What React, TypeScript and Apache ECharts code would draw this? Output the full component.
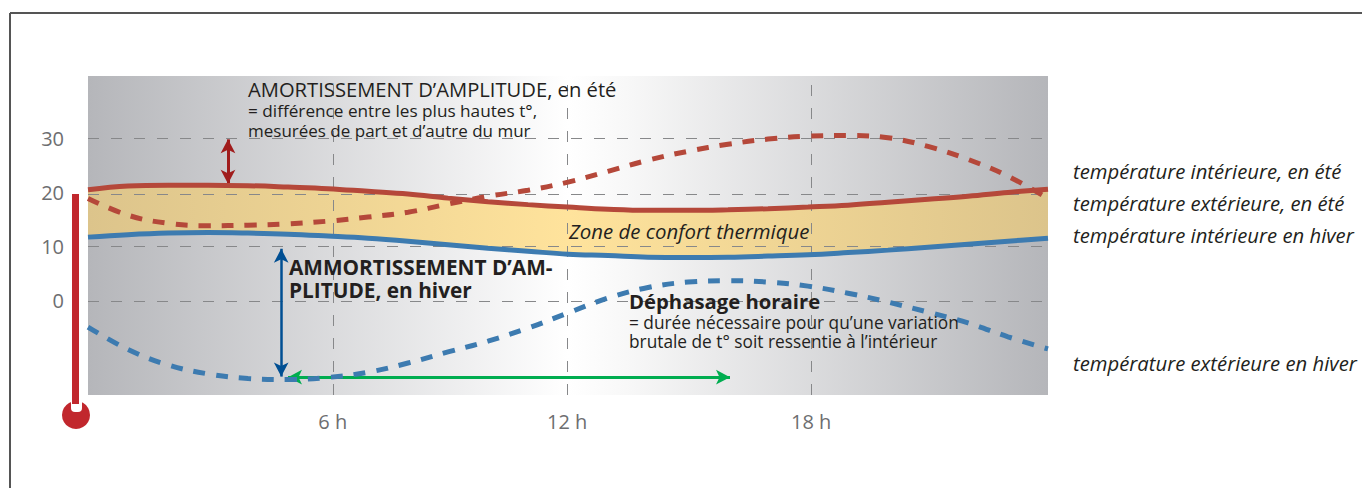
import React, { useEffect, useRef } from "react";
import * as echarts from "echarts";

const hours = [0,1,2,3,4,5,6,7,8,9,10,11,12,13,14,15,16,17,18,19,20,21,22,23,24];
const interiorSummer = [20.5,21.2,21.35,21.35,21.25,21.0,20.7,20.2,19.7,18.95,18.3,17.75,17.3,16.9,16.7,16.7,16.8,17.0,17.3,17.65,18.2,18.75,19.3,20.0,20.6];
const interiorWinter = [11.75,12.2,12.5,12.6,12.5,12.3,11.95,11.55,11.0,10.35,9.7,9.15,8.6,8.35,8.05,8.0,8.05,8.25,8.5,8.9,9.35,9.9,10.45,11.0,11.55];
const exteriorSummer = [18.9,15.8,14.3,13.85,13.95,14.2,14.7,15.45,16.35,17.85,19.3,20.4,21.9,23.9,25.95,27.6,28.9,29.85,30.4,30.5,30.1,28.5,26.1,23.0,18.9];
const exteriorWinter = [-4.85,-9.0,-11.85,-13.5,-14.35,-14.55,-14.15,-13.2,-11.5,-9.45,-7.45,-5.05,-2.25,0.5,2.45,3.45,3.7,3.45,2.7,1.4,-0.25,-2.1,-4.1,-6.65,-8.9];

const yTickValues = [0, 10, 20, 30];
const yGridValues = [0, 10, 19.75, 30];
const xTickValues = [6.12, 11.98, 18.08];
const xTickLabels = ["6 h", "12 h", "18 h"];

const arrowSummer = [[3.5, 29.8], [3.5, 21.6]];
const arrowWinter = [[4.83, 9.6], [4.83, -14]];
const arrowShift = [[5.0, -14.1], [16.05, -14.1]];

const rightLabels = ["température intérieure, en été", "température extérieure, en été", "température intérieure en hiver", "température extérieure en hiver"];

const FONT = "'Open Sans', 'Noto Sans', sans-serif";
const INK = "#231f20";

const zip = (vals: number[]) => hours.map((h, i) => [h, vals[i]]);

function txt(text: string, x: number, y: number, size: number, extra: any = {}) {
  return {
    type: "text", x, y, z: 50, silent: true,
    style: { text, fontSize: size, fontFamily: FONT, fill: INK, verticalAlign: "middle", align: "left", ...extra },
  };
}

function arrow(points: number[][], color: string, width: number) {
  return {
    type: "line", data: [], silent: true, z: 8,
    markLine: {
      silent: true, animation: false, symbol: ["arrow", "arrow"], symbolSize: [11, 14], precision: 4,
      label: { show: false }, emphasis: { disabled: true },
      lineStyle: { color, width, type: "solid" },
      data: [[{ coord: points[0] }, { coord: points[1] }]],
    },
  };
}

export default function App() {
  const ref = useRef<HTMLDivElement>(null);
  useEffect(() => {
    const chart = echarts.init(ref.current!, null, { renderer: "svg" });
    const grey = "#b5b6ba";
    const lineBase = { type: "line", showSymbol: false, symbol: "none", smooth: 0.4, silent: true };
    const bandFill = new echarts.graphic.LinearGradient(0, 0, 1, 0, [
      { offset: 0, color: "#dcc48b" }, { offset: 0.5, color: "#ffe39c" }, { offset: 1, color: "#dcc48b" },
    ]);
    chart.setOption({
      animation: false,
      backgroundColor: "#ffffff",
      grid: {
        left: 88, right: 314, top: 76, height: 319, show: true, borderWidth: 0,
        backgroundColor: new echarts.graphic.LinearGradient(0, 0, 1, 0, [
          { offset: 0, color: grey }, { offset: 0.5, color: "#ffffff" }, { offset: 0.56, color: "#f8f8f8" }, { offset: 1, color: grey },
        ]),
      },
      xAxis: {
        type: "value", min: 0, max: 24,
        axisLine: { show: false }, axisTick: { show: false }, splitLine: { show: false },
        axisLabel: {
          show: true, customValues: xTickValues, margin: 16, fontSize: 20, color: "#6d6e70", fontFamily: FONT,
          formatter: (v: number) => xTickLabels[xTickValues.indexOf(v)] ?? "",
        },
      },
      yAxis: {
        type: "value", min: -17.4, max: 41.5,
        axisLine: { show: false }, axisTick: { show: false }, splitLine: { show: false },
        axisLabel: {
          show: true, customValues: yTickValues, margin: 24, fontSize: 20, color: "#6d6e70", fontFamily: FONT,
          padding: [0, 0, 2, 0],
          formatter: (v: number) => String(v),
        },
      },
      series: [
        {
          type: "custom", name: "Zone de confort thermique", silent: true, z: 2,
          coordinateSystem: "cartesian2d",
          encode: { x: 0, y: [1, 2] },
          data: hours.map((h, i) => [h, interiorWinter[i], interiorSummer[i]]),
          renderItem: (params: any, api: any) => {
            if (params.dataIndex !== 0) return null;
            const upper = hours.map((h, i) => api.coord([h, interiorSummer[i]]));
            const lower = hours.map((h, i) => api.coord([h, interiorWinter[i]])).reverse();
            return { type: "polygon", shape: { points: [...upper, ...lower] }, style: { fill: bandFill } };
          },
        },
        {
          type: "line", data: [], silent: true, z: 3,
          markLine: {
            silent: true, animation: false, symbol: "none", precision: 4, label: { show: false }, emphasis: { disabled: true },
            lineStyle: { color: "#87888a", width: 1, type: [11, 12] },
            data: [...yGridValues.map((v) => ({ yAxis: v })), ...xTickValues.map((v) => ({ xAxis: v }))],
          },
        },
        { ...lineBase, name: "température extérieure, en été", z: 5, lineStyle: { color: "#b5483a", width: 5, type: [12, 11] }, data: zip(exteriorSummer) },
        { ...lineBase, name: "température extérieure en hiver", z: 5, lineStyle: { color: "#3d7bb0", width: 5, type: [12, 11] }, data: zip(exteriorWinter) },
        { ...lineBase, name: "température intérieure, en été", z: 6, lineStyle: { color: "#b5483a", width: 5 }, data: zip(interiorSummer) },
        { ...lineBase, name: "température intérieure en hiver", z: 6, lineStyle: { color: "#3d7bb0", width: 5 }, data: zip(interiorWinter) },
        arrow(arrowSummer, "#a01c1c", 3),
        arrow(arrowWinter, "#004f93", 2.5),
        arrow(arrowShift, "#00ad50", 3),
      ],
      graphic: [
        { type: "line", z: 40, silent: true, shape: { x1: 10, y1: 13, x2: 1362, y2: 13 }, style: { stroke: "#555555", lineWidth: 2 } },
        { type: "line", z: 40, silent: true, shape: { x1: 10, y1: 13, x2: 10, y2: 488 }, style: { stroke: "#555555", lineWidth: 2 } },
        { type: "circle", z: 41, silent: true, shape: { cx: 76, cy: 415, r: 14 }, style: { fill: "#c1272d" } },
        { type: "rect", z: 42, silent: true, shape: { x: 71, y: 396, width: 11, height: 16, r: 4 }, style: { fill: "#ffffff" } },
        { type: "rect", z: 43, silent: true, shape: { x: 72, y: 194, width: 7, height: 210 }, style: { fill: "#c1272d" } },
        txt("AMORTISSEMENT D’AMPLITUDE, en été", 248, 89, 20.2),
        txt("= différence entre les plus hautes t°,", 248, 110, 17.2),
        txt("mesurées de part et d’autre du mur", 248, 130, 17),
        txt("Zone de confort thermique", 569, 231, 20.4, { fontStyle: "italic" }),
        txt("AMMORTISSEMENT D’AM-", 289, 267, 20.8, { fontWeight: "bold" }),
        txt("PLITUDE, en hiver", 289, 290, 20.8, { fontWeight: "bold" }),
        txt("Déphasage horaire", 629, 301, 20.3, { fontWeight: "bold" }),
        txt("= durée nécessaire pour qu’une variation", 629, 322, 17.3),
        txt("brutale de t° soit ressentie à l’intérieur", 629, 341, 17.3),
        txt(rightLabels[0], 1073, 171, 20.3, { fontStyle: "italic" }),
        txt(rightLabels[1], 1073, 203, 20.3, { fontStyle: "italic" }),
        txt(rightLabels[2], 1073, 235, 20.3, { fontStyle: "italic" }),
        txt(rightLabels[3], 1073, 363, 20.3, { fontStyle: "italic" }),
      ],
    });
    return () => chart.dispose();
  }, []);
  return <div ref={ref} style={{ position: "fixed", left: 0, top: 0, width: 1362, height: 488 }} />;
}
